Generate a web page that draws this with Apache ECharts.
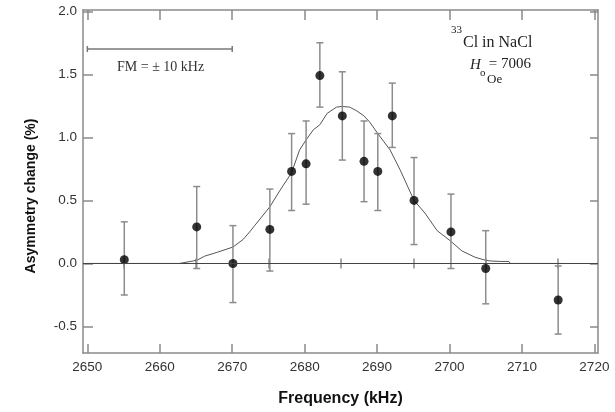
<!DOCTYPE html>
<html>
<head>
<meta charset="utf-8">
<script src="https://cdn.jsdelivr.net/npm/echarts@6/dist/echarts.min.js"></script>
<style>html,body{margin:0;padding:0;background:#fff}#c{width:615px;height:412px}</style>
</head>
<body>
<div id="c"></div>
<script>
// ---- data ----
const freq      = [2655.1, 2665.1, 2670.1, 2675.2, 2678.2, 2680.2, 2682.1, 2685.2, 2688.2, 2690.1, 2692.1, 2695.1, 2700.2, 2705.0, 2715.0];
const asym      = [0.03, 0.29, 0.00, 0.27, 0.73, 0.79, 1.49, 1.17, 0.81, 0.73, 1.17, 0.50, 0.25, -0.04, -0.29];
const errHigh   = [0.33, 0.61, 0.30, 0.59, 1.03, 1.13, 1.75, 1.52, 1.13, 1.03, 1.43, 0.84, 0.55, 0.26, -0.02];
const errLow    = [-0.25, -0.04, -0.31, -0.06, 0.42, 0.47, 1.24, 0.82, 0.49, 0.42, 0.92, 0.15, -0.04, -0.32, -0.56];

const curveFreq = [2650, 2662.7, 2662.8, 2665.1, 2666.2, 2668.0, 2670.1, 2671.5, 2672.4, 2673.1, 2675.2, 2676.6, 2678.2, 2679.3, 2680.2, 2681.2, 2682.1, 2683.1, 2684.4, 2685.2, 2686.2, 2687.2, 2688.2, 2689.0, 2690.1, 2691.8, 2693.2, 2695.1, 2696.6, 2698.3, 2700.1, 2701.7, 2703.5, 2705.0, 2705.6, 2707.0, 2708.2, 2708.4, 2716];
const curveVal  = [0, 0, 0.015, 0.025, 0.058, 0.09, 0.13, 0.19, 0.25, 0.30, 0.45, 0.58, 0.72, 0.90, 0.98, 1.06, 1.10, 1.19, 1.24, 1.245, 1.24, 1.21, 1.17, 1.12, 1.03, 0.90, 0.74, 0.50, 0.40, 0.26, 0.18, 0.10, 0.05, 0.025, 0.02, 0.016, 0.016, 0, 0];

const xMajorTicks = [2650, 2660, 2670, 2680, 2690, 2700, 2710, 2720];
const xMinorTicks = [2655, 2665, 2675, 2685, 2695, 2705, 2715];
const yTicks      = [-0.5, 0.0, 0.5, 1.0, 1.5, 2.0];

const fmBar = [2650, 2670, 1.70];   // FM = ±10 kHz scale bar

// ---- chart ----
const axisGray = '#8a8a8a';
const xRange = {min: 2649.4, max: 2720.5};
const yRange = {min: -0.71, max: 2.01};
const serif = "'Liberation Serif', 'Times New Roman', serif";

function xAx(pos, len, ticks, extra) {
  return Object.assign({
    type: 'value', min: xRange.min, max: xRange.max, position: pos,
    axisLine: {show: false},
    axisTick: {show: true, inside: true, length: len, customValues: ticks, lineStyle: {color: axisGray, width: 1.5}},
    axisLabel: {show: false},
    splitLine: {show: false}
  }, extra || {});
}

const chart = echarts.init(document.getElementById('c'), null, {renderer: 'canvas'});
chart.setOption({
  animation: false,
  grid: {left: 83, right: 17, top: 10, bottom: 59, containLabel: false},
  xAxis: [
    xAx('bottom', 9, xMajorTicks, {
      axisLine: {show: true, onZero: false, lineStyle: {color: axisGray, width: 1.5}},
      axisLabel: {show: true, customValues: xMajorTicks, formatter: v => String(Math.round(v)), fontSize: 13.5, color: '#333', margin: 7, fontFamily: "'Liberation Sans', Arial, sans-serif"},
      name: 'Frequency (kHz)', nameLocation: 'middle', nameGap: 38,
      nameTextStyle: {fontSize: 16, fontWeight: 'bold', color: '#111', fontFamily: "'Liberation Sans', Arial, sans-serif"}
    }),
    xAx('bottom', 5, xMinorTicks),
    xAx('top', 10, xMajorTicks, {axisLine: {show: true, onZero: false, lineStyle: {color: axisGray, width: 1.5}}}),
    xAx('top', 5, xMinorTicks)
  ],
  yAxis: [
    {
      type: 'value', min: yRange.min, max: yRange.max, position: 'left',
      axisLine: {show: true, onZero: false, lineStyle: {color: axisGray, width: 1.5}},
      axisTick: {show: true, inside: true, length: 10, customValues: yTicks, lineStyle: {color: axisGray, width: 1.5}},
      axisLabel: {show: true, customValues: yTicks, formatter: v => v.toFixed(1), fontSize: 13.5, color: '#333', margin: 6, fontFamily: "'Liberation Sans', Arial, sans-serif"},
      splitLine: {show: false}
    },
    {
      type: 'value', min: yRange.min, max: yRange.max, position: 'right',
      axisLine: {show: true, onZero: false, lineStyle: {color: axisGray, width: 1.5}},
      axisTick: {show: true, inside: true, length: 8, customValues: yTicks, lineStyle: {color: axisGray, width: 1.5}},
      axisLabel: {show: false},
      splitLine: {show: false}
    }
  ],
  series: [
    {
      type: 'line', xAxisIndex: 0, yAxisIndex: 0,
      data: curveFreq.map((f, i) => [f, curveVal[i]]),
      symbol: 'none', lineStyle: {color: '#555', width: 1}, z: 2,
      markLine: {
        silent: true, symbol: ['none', 'none'], label: {show: false},
        lineStyle: {color: '#444', width: 1, type: 'solid'},
        data: [{yAxis: 0}]
      }
    },
    {
      type: 'custom', xAxisIndex: 0, yAxisIndex: 0, z: 3,
      data: freq.map((f, i) => [f, errLow[i], errHigh[i]]),
      renderItem: function (params, api) {
        const x = api.value(0);
        const pLo = api.coord([x, api.value(1)]);
        const pHi = api.coord([x, api.value(2)]);
        const w = 3.5;
        const st = {stroke: '#8c8c8c', lineWidth: 1.5};
        return {type: 'group', children: [
          {type: 'line', shape: {x1: pHi[0], y1: pHi[1], x2: pLo[0], y2: pLo[1]}, style: st},
          {type: 'line', shape: {x1: pHi[0] - w, y1: pHi[1], x2: pHi[0] + w, y2: pHi[1]}, style: st},
          {type: 'line', shape: {x1: pLo[0] - w, y1: pLo[1], x2: pLo[0] + w, y2: pLo[1]}, style: st}
        ]};
      }
    },
    {
      type: 'scatter', xAxisIndex: 0, yAxisIndex: 0, z: 4,
      data: freq.map((f, i) => [f, asym[i]]),
      symbol: 'circle', symbolSize: 9, itemStyle: {color: '#000'}
    },
    {
      type: 'custom', xAxisIndex: 0, yAxisIndex: 0, z: 3,
      data: [fmBar],
      renderItem: function (params, api) {
        const a = api.coord([api.value(0), api.value(2)]);
        const b = api.coord([api.value(1), api.value(2)]);
        const h = 3;
        const st = {stroke: '#777', lineWidth: 1.5};
        return {type: 'group', children: [
          {type: 'line', shape: {x1: a[0], y1: a[1], x2: b[0], y2: b[1]}, style: st},
          {type: 'line', shape: {x1: a[0], y1: a[1] - h, x2: a[0], y2: a[1] + h}, style: st},
          {type: 'line', shape: {x1: b[0], y1: b[1] - h, x2: b[0], y2: b[1] + h}, style: st}
        ]};
      }
    }
  ],
  graphic: [
    {type: 'text', x: 31, y: 196, rotation: Math.PI / 2,
     style: {text: 'Asymmetry change (%)', font: "bold 14px 'Liberation Sans', Arial, sans-serif", fill: '#111', align: 'center', verticalAlign: 'middle'}},
    {type: 'text', x: 117, y: 67,
     style: {text: 'FM = ± 10 kHz', font: "14px " + serif, fill: '#333', align: 'left', verticalAlign: 'middle'}},
    {type: 'text', x: 451, y: 30,
     style: {text: '33', font: "11px " + serif, fill: '#222', align: 'left', verticalAlign: 'middle'}},
    {type: 'text', x: 463, y: 43,
     style: {text: 'Cl in NaCl', font: "16px " + serif, fill: '#222', align: 'left', verticalAlign: 'middle'}},
    {type: 'text', x: 470, y: 65,
     style: {text: 'H', font: "italic 15px " + serif, fill: '#222', align: 'left', verticalAlign: 'middle'}},
    {type: 'text', x: 480, y: 73,
     style: {text: 'o', font: "11px " + serif, fill: '#222', align: 'left', verticalAlign: 'middle'}},
    {type: 'text', x: 531, y: 64,
     style: {text: '= 7006', font: "15px " + serif, fill: '#222', align: 'right', verticalAlign: 'middle'}},
    {type: 'text', x: 487, y: 80,
     style: {text: 'Oe', font: "13px " + serif, fill: '#222', align: 'left', verticalAlign: 'middle'}}
  ]
});
</script>
</body>
</html>
